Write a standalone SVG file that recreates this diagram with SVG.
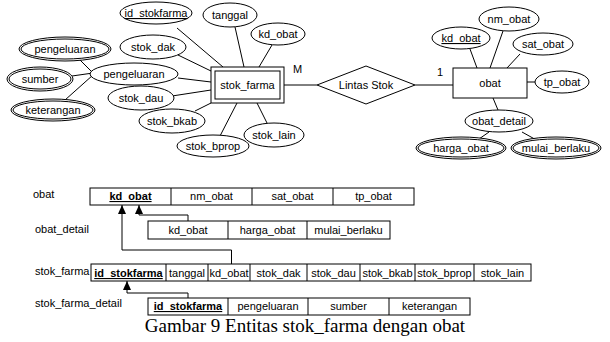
<svg xmlns="http://www.w3.org/2000/svg" width="610" height="342" viewBox="0 0 610 342">
  <defs>
    <style>
      .sh { fill: #fff; stroke: #000; stroke-width: 1; }
      .ln { fill: none; stroke: #000; stroke-width: 1; }
      .t { font-family: "Liberation Sans", Arial, sans-serif; font-size: 11px; fill: #000; text-anchor: middle; }
      .lbl { font-family: "Liberation Sans", Arial, sans-serif; font-size: 11px; fill: #000; }
      .u { text-decoration: underline; }
      .b { font-weight: bold; }
      .cap { font-family: "Liberation Serif", "Times New Roman", serif; font-size: 19px; fill: #000; text-anchor: middle; }
    </style>
    <marker id="tri" viewBox="0 0 9 8" refX="9" refY="4" markerWidth="9" markerHeight="8" markerUnits="userSpaceOnUse" orient="auto">
      <path d="M0,0 L9,4 L0,8 Z" fill="#000"/>
    </marker>
  </defs>

  <!-- ER connectors -->
  <g id="connectors" class="ln">
    <line x1="177" y1="28" x2="223" y2="67"/>
    <line x1="235" y1="27" x2="244" y2="67"/>
    <line x1="272" y1="45" x2="259" y2="67"/>
    <line x1="178" y1="55" x2="211" y2="71"/>
    <line x1="178" y1="78" x2="211" y2="82"/>
    <line x1="172" y1="96" x2="211" y2="90"/>
    <line x1="195" y1="111" x2="211" y2="103"/>
    <line x1="220" y1="136" x2="237" y2="103"/>
    <line x1="267" y1="123" x2="257" y2="103"/>
    <line x1="78" y1="58" x2="93" y2="73"/>
    <line x1="72" y1="76" x2="93" y2="73"/>
    <line x1="65" y1="100" x2="93" y2="75"/>
    <line x1="284" y1="85" x2="317" y2="85"/>
    <line x1="415" y1="85" x2="453" y2="85"/>
    <line x1="470" y1="49" x2="477" y2="68"/>
    <line x1="503" y1="31" x2="490" y2="68"/>
    <line x1="520" y1="54" x2="507" y2="68"/>
    <line x1="527" y1="82" x2="535" y2="82"/>
    <line x1="493" y1="98" x2="498" y2="110"/>
    <line x1="489" y1="132" x2="479" y2="139"/>
    <line x1="522" y1="132" x2="540" y2="142"/>
  </g>

  <!-- stok_farma entity and its attributes -->
  <g id="stok_farma">
    <rect class="sh" x="211" y="67" width="73" height="36"/>
    <rect class="sh" x="215" y="71" width="65" height="28"/>
    <text class="t" x="247.5" y="89">stok_farma</text>
  </g>
  <g id="attr_id_stokfarma">
    <ellipse class="sh" cx="156" cy="13" rx="36" ry="11"/>
    <text class="t u" x="156" y="17">id_stokfarma</text>
  </g>
  <g id="attr_tanggal">
    <ellipse class="sh" cx="230" cy="15" rx="27" ry="12"/>
    <text class="t" x="230" y="19">tanggal</text>
  </g>
  <g id="attr_kd_obat_sf">
    <ellipse class="sh" cx="278" cy="34" rx="27" ry="11"/>
    <text class="t" x="278" y="38">kd_obat</text>
  </g>
  <g id="attr_stok_dak">
    <ellipse class="sh" cx="153" cy="47" rx="33" ry="12"/>
    <text class="t" x="153" y="51">stok_dak</text>
  </g>
  <g id="attr_pengeluaran">
    <ellipse class="sh" cx="134" cy="74" rx="44" ry="11"/>
    <text class="t" x="134" y="78">pengeluaran</text>
  </g>
  <g id="attr_stok_dau">
    <ellipse class="sh" cx="141" cy="98" rx="33" ry="12"/>
    <text class="t" x="141" y="102">stok_dau</text>
  </g>
  <g id="attr_stok_bkab">
    <ellipse class="sh" cx="172" cy="121" rx="33" ry="12"/>
    <text class="t" x="172" y="125">stok_bkab</text>
  </g>
  <g id="attr_stok_bprop">
    <ellipse class="sh" cx="213" cy="146" rx="36" ry="11"/>
    <text class="t" x="213" y="150">stok_bprop</text>
  </g>
  <g id="attr_stok_lain">
    <ellipse class="sh" cx="274" cy="135" rx="30" ry="12"/>
    <text class="t" x="274" y="139">stok_lain</text>
  </g>

  <!-- multivalued attributes of pengeluaran -->
  <g id="attr_pengeluaran_mv">
    <ellipse class="sh" cx="65" cy="49" rx="46" ry="12"/>
    <ellipse class="sh" cx="65" cy="49" rx="44" ry="10"/>
    <text class="t" x="65" y="53">pengeluaran</text>
  </g>
  <g id="attr_sumber">
    <ellipse class="sh" cx="40" cy="79" rx="33" ry="12"/>
    <ellipse class="sh" cx="40" cy="79" rx="31" ry="10"/>
    <text class="t" x="40" y="83">sumber</text>
  </g>
  <g id="attr_keterangan">
    <ellipse class="sh" cx="53" cy="110" rx="42" ry="11"/>
    <ellipse class="sh" cx="53" cy="110" rx="40" ry="9"/>
    <text class="t" x="53" y="114">keterangan</text>
  </g>

  <!-- relationship -->
  <g id="lintas_stok">
    <polygon class="sh" points="317,85 366,66 415,85 366,104"/>
    <text class="t" x="366" y="89">Lintas Stok</text>
  </g>
  <text class="lbl" x="293" y="73" font-size="12">M</text>
  <text class="lbl" x="437" y="76" font-size="12">1</text>

  <!-- obat entity and its attributes -->
  <g id="obat">
    <rect class="sh" x="453" y="68" width="74" height="30"/>
    <text class="t" x="490" y="87">obat</text>
  </g>
  <g id="attr_kd_obat">
    <ellipse class="sh" cx="461" cy="38" rx="29" ry="11"/>
    <text class="t u" x="461" y="42">kd_obat</text>
  </g>
  <g id="attr_nm_obat">
    <ellipse class="sh" cx="509" cy="19" rx="30" ry="12"/>
    <text class="t" x="509" y="23">nm_obat</text>
  </g>
  <g id="attr_sat_obat">
    <ellipse class="sh" cx="543" cy="44" rx="30" ry="11"/>
    <text class="t" x="543" y="48">sat_obat</text>
  </g>
  <g id="attr_tp_obat">
    <ellipse class="sh" cx="562" cy="82" rx="27" ry="11"/>
    <text class="t" x="562" y="86">tp_obat</text>
  </g>
  <g id="attr_obat_detail">
    <ellipse class="sh" cx="499" cy="121" rx="34" ry="11"/>
    <text class="t" x="499" y="125">obat_detail</text>
  </g>
  <g id="attr_harga_obat">
    <ellipse class="sh" cx="461" cy="148" rx="45" ry="11"/>
    <ellipse class="sh" cx="461" cy="148" rx="43" ry="9"/>
    <text class="t" x="461" y="152">harga_obat</text>
  </g>
  <g id="attr_mulai_berlaku">
    <ellipse class="sh" cx="556" cy="148" rx="45" ry="11"/>
    <ellipse class="sh" cx="556" cy="148" rx="43" ry="9"/>
    <text class="t" x="556" y="152">mulai_berlaku</text>
  </g>

  <!-- relational schema -->
  <g id="fk_links" class="ln">
    <polyline points="231.5,264 231.5,250 122,250 122,205" marker-end="url(#tri)"/>
    <polyline points="188,221 188,215 139,215 139,205" marker-end="url(#tri)"/>
    <polyline points="188,298 188,293 127,293 127,281" marker-end="url(#tri)"/>
  </g>

  <g id="tbl_obat">
    <text class="lbl" x="33" y="198">obat</text>
    <rect class="sh" x="90" y="188" width="324" height="17"/>
    <path class="ln" d="M171,188V205M252,188V205M333,188V205"/>
    <text class="t b u" x="130.5" y="200">kd_obat</text>
    <text class="t" x="211.5" y="200">nm_obat</text>
    <text class="t" x="292.5" y="200">sat_obat</text>
    <text class="t" x="373.5" y="200">tp_obat</text>
  </g>

  <g id="tbl_obat_detail">
    <text class="lbl" x="35" y="233">obat_detail</text>
    <rect class="sh" x="148" y="221" width="242" height="18"/>
    <path class="ln" d="M228,221V239M307,221V239"/>
    <text class="t" x="188" y="234">kd_obat</text>
    <text class="t" x="267.5" y="234">harga_obat</text>
    <text class="t" x="348.5" y="234">mulai_berlaku</text>
  </g>

  <g id="tbl_stok_farma">
    <text class="lbl" x="35" y="275">stok_farma</text>
    <rect class="sh" x="91" y="264" width="440" height="17"/>
    <path class="ln" d="M166,264V281M208,264V281M250,264V281M307,264V281M360,264V281M415,264V281M474,264V281"/>
    <text class="t b u" x="128.5" y="277">id_stokfarma</text>
    <text class="t" x="187" y="277">tanggal</text>
    <text class="t" x="229" y="277">kd_obat</text>
    <text class="t" x="278.5" y="277">stok_dak</text>
    <text class="t" x="333.5" y="277">stok_dau</text>
    <text class="t" x="387.5" y="277">stok_bkab</text>
    <text class="t" x="444.5" y="277">stok_bprop</text>
    <text class="t" x="502.5" y="277">stok_lain</text>
  </g>

  <g id="tbl_stok_farma_detail">
    <text class="lbl" x="35" y="307">stok_farma_detail</text>
    <rect class="sh" x="148" y="298" width="322" height="17"/>
    <path class="ln" d="M228,298V315M308,298V315M389,298V315"/>
    <text class="t b u" x="188" y="310">id_stokfarma</text>
    <text class="t" x="268" y="310">pengeluaran</text>
    <text class="t" x="348.5" y="310">sumber</text>
    <text class="t" x="429.5" y="310">keterangan</text>
  </g>

  <text class="cap" x="305" y="332">Gambar 9 Entitas stok_farma dengan obat</text>
</svg>
